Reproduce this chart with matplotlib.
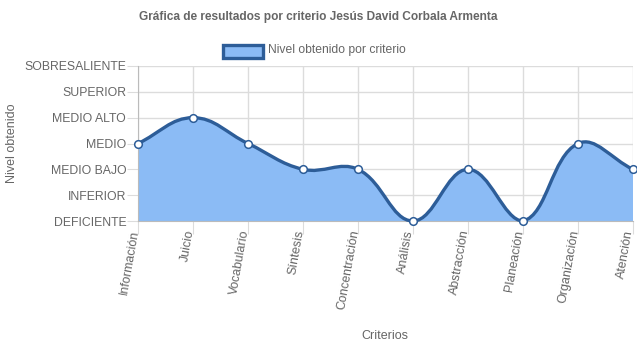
import numpy as np
import matplotlib
matplotlib.use("Agg")
import matplotlib.pyplot as plt
from matplotlib.path import Path
from matplotlib.patches import PathPatch, Rectangle
from matplotlib.transforms import ScaledTranslation

plt.rcParams["font.family"] = ["Liberation Sans", "DejaVu Sans"]

criterios = ["Información", "Juicio", "Vocabulario", "Síntesis", "Concentración",
             "Análisis", "Abstracción", "Planeación", "Organización", "Atención"]
niveles = ["DEFICIENTE", "INFERIOR", "MEDIO BAJO", "MEDIO", "MEDIO ALTO",
           "SUPERIOR", "SOBRESALIENTE"]
valores = [3, 4, 3, 2, 2, 0, 2, 0, 3, 2]

FILL = "#8bbbf5"
LINE = "#2d5d98"
TXT = "#666666"
GRID = "#dcdcdc"

W, H = 637, 348
fig = plt.figure(figsize=(W / 100, H / 100), dpi=100)
L, R, T, B = 138, 633, 66, 221
ax = fig.add_axes([L / W, 1 - B / H, (R - L) / W, (B - T) / H])

x = np.arange(len(valores), dtype=float)
y = np.array(valores, dtype=float)
xmax, ymax = len(x) - 1, len(niveles) - 1
sx = (R - L) / xmax   # px per category
sy = (B - T) / ymax   # px per level


def controls(x, y, t=0.4):
    """Chart.js-style spline control points (computed in pixel space)."""
    n = len(x)
    px, py = x * sx, y * sy
    cp = []
    for i in range(n):
        a = max(i - 1, 0); c = min(i + 1, n - 1)
        d01 = np.hypot(px[i] - px[a], py[i] - py[a])
        d12 = np.hypot(px[c] - px[i], py[c] - py[i])
        tot = d01 + d12
        s01 = d01 / tot if tot else 0
        s12 = d12 / tot if tot else 0
        fa, fb = t * s01, t * s12
        p_prev = (x[i] - fa * (x[c] - x[a]), y[i] - fa * (y[c] - y[a]))
        p_next = (x[i] + fb * (x[c] - x[a]), y[i] + fb * (y[c] - y[a]))
        cap = lambda p: (min(max(p[0], 0), xmax), min(max(p[1], 0), ymax))
        cp.append((cap(p_prev), cap(p_next)))
    return cp


cp = controls(x, y)
verts = [(x[0], y[0])]
codes = [Path.MOVETO]
for i in range(1, len(x)):
    verts += [cp[i - 1][1], cp[i][0], (x[i], y[i])]
    codes += [Path.CURVE4] * 3
line_path = Path(verts, codes)
fill_path = Path(verts + [(x[-1], 0), (x[0], 0), (x[0], y[0])],
                 codes + [Path.LINETO, Path.LINETO, Path.CLOSEPOLY])

ax.add_patch(PathPatch(fill_path, facecolor=FILL, edgecolor="none", zorder=2))
ax.add_patch(PathPatch(line_path, facecolor="none", edgecolor=LINE, lw=2.4,
                       zorder=3, clip_on=False))
ax.plot(x, y, ls="none", marker="o", ms=5.5, mfc="white", mec=LINE, mew=1.1,
        zorder=4, clip_on=False)

ax.set_xlim(0, xmax)
ax.set_ylim(0, ymax)
ax.set_xticks(x)
ax.set_xticklabels([])
# rotated category labels, drawn as texts so they can sit a bit left of the tick
off = ax.get_xaxis_transform() + ScaledTranslation(-3 / 100, -9 / 100,
                                                   fig.dpi_scale_trans)
for xi, lab in zip(x, criterios):
    ax.text(xi, 0, lab, transform=off, rotation=80, ha="right", va="center",
            rotation_mode="anchor", fontsize=9, color=TXT, clip_on=False)
ax.set_yticks(range(len(niveles)))
ax.set_yticklabels(niveles, fontsize=8.8, color=TXT)
ax.tick_params(axis="x", length=9, width=0.8, color=GRID, pad=1)
ax.tick_params(axis="y", length=8, width=0.8, color=GRID, pad=0.5)
ax.grid(True, color=GRID, lw=1, zorder=0)
ax.set_axisbelow(True)
for s in ["top", "right"]:
    ax.spines[s].set_visible(False)
for s in ["left", "bottom"]:
    ax.spines[s].set_color("#bbbbbb")

fig.text(0.5, 1 - 17 / H,
         "Gráfica de resultados por criterio Jesús David Corbala Armenta",
         ha="center", va="center", fontsize=8.6, fontweight="bold", color=TXT)
# legend
fig.patches.append(Rectangle((223 / W, 1 - 58 / H), 40 / W, 13 / H,
                             transform=fig.transFigure, facecolor=FILL,
                             edgecolor=LINE, lw=2.4))
fig.text(268 / W, 1 - 50 / H, "Nivel obtenido por criterio", ha="left",
         va="center", fontsize=8.7, color=TXT)
fig.text(12 / W, 1 - 143 / H, "Nivel obtenido", rotation=90, ha="center",
         va="center", fontsize=9, color=TXT)
fig.text(385 / W, 1 - 336 / H, "Criterios", ha="center", va="center",
         fontsize=9, color=TXT)

fig.savefig("out.png", dpi=100)
